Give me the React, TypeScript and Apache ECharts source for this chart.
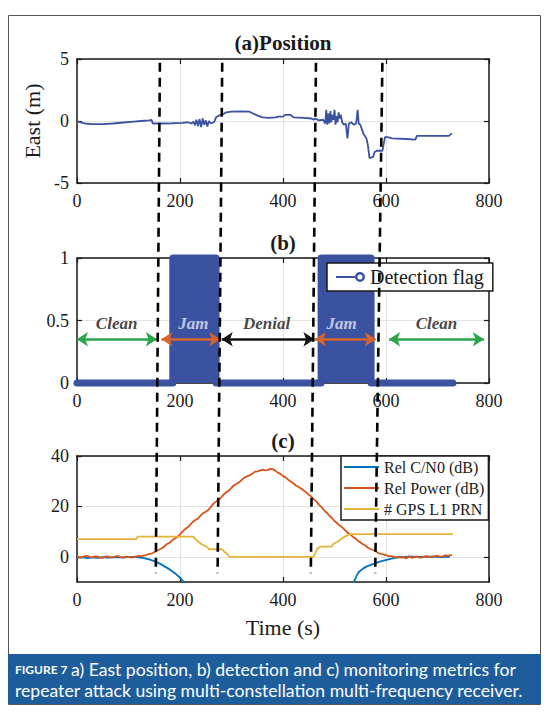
import React, { useEffect, useRef } from "react";
import * as echarts from "echarts";

// ---------- data ----------
const xTickValues = [0, 200, 400, 600, 800];

// (a) East position [time s, metres]
const eastPosition: [number, number][] = [
  [0, 0], [5, -0.1], [15, -0.2], [30, -0.25], [50, -0.25], [70, -0.2], [90, -0.12], [110, -0.05],
  [125, 0], [140, 0.05], [145, 0.08], [147, -0.2], [165, -0.2], [185, -0.18], [205, -0.15], [215, -0.1],
  [222, -0.2], [226, -0.05], [229, -0.35], [232, 0.1], [235, -0.4], [238, 0.15], [241, -0.5], [244, 0.2],
  [247, -0.3], [250, 0.05], [253, -0.45], [256, 0], [260, -0.2], [266, -0.1], [270, 0.3], [276, 0.45],
  [282, 0.5], [290, 0.7], [300, 0.75], [320, 0.78], [335, 0.75], [342, 0.6], [350, 0.45], [360, 0.3],
  [372, 0.25], [385, 0.3], [392, 0.35], [400, 0.35], [404, 0.5], [415, 0.5], [420, 0.3], [440, 0.25],
  [455, 0.2], [460, 0.1], [462, 0.2], [470, 0.05], [478, 0.1], [482, -0.2], [484, 0.9], [486, -0.3],
  [488, 0.6], [490, -0.2], [492, 0.8], [494, -0.1], [496, 0.5], [498, 0.1], [500, 0.9], [502, -0.3],
  [504, 0.4], [506, -0.1], [508, 0.7], [510, 0.2], [512, 0.5], [515, -0.1], [518, -0.3], [522, -0.2],
  [525, -1.4], [528, -0.2], [532, -0.1], [538, -0.3], [542, -0.2], [545, 0.9], [547, -0.2], [550, -0.3],
  [556, -1.0], [562, -1.4], [565, -2.0], [568, -3.0], [575, -2.9], [578, -2.5], [582, -2.4], [593, -2.4],
  [596, -1.75], [598, -1.3], [603, -1.3], [612, -1.4], [640, -1.45], [657, -1.5], [660, -1.2], [700, -1.2],
  [722, -1.2], [728, -1.0],
];

// (b) detection flag runs
const flagRunStart = [0, 186, 270, 474, 571];
const flagRunEnd = [186, 270, 474, 571, 730];
const flagRunValue = [0, 1, 0, 1, 0];

const regionNames = ["Clean", "Jam", "Denial", "Jam", "Clean"];
const regionLabelTime = [77, 226, 368, 514, 698];
const regionLabelLevel = 0.48;
const arrowStart = [0, 164, 281, 462, 606];
const arrowEnd = [155, 278, 461, 580, 790];
const arrowLevel = 0.35;

// (c) monitoring metrics [time s, value]
const relCn0: ([number, number] | [number, string])[] = [
  [0, -0.3], [10, -0.1], [20, -0.5], [30, -0.2], [40, -0.4], [50, -0.1], [60, -0.3], [70, -0.2],
  [80, -0.1], [90, -0.2], [100, -0.1], [110, 0], [120, -0.2], [130, -0.5], [140, -1.0], [150, -1.7],
  [160, -2.6], [170, -3.8], [180, -5.0], [190, -6.5], [200, -8.3], [205, -9.4], [208, -10.2], [212, -12],
  [300, "-"],
  [534, -12], [538, -9.8], [542, -8.0], [546, -6.4], [550, -5.5], [556, -4.6], [562, -3.9], [570, -3.2],
  [578, -2.7], [586, -2.0], [595, -1.5], [605, -1.0], [615, -0.5], [625, -0.2], [635, 0], [650, 0.1],
  [670, 0], [690, 0.1], [710, -0.1], [724, 0],
];
const relPower: [number, number][] = [
  [0, 0.2], [5, -0.2], [10, -0.3], [15, 0.3], [20, 0.4], [25, -0.1], [30, -0.2], [35, 0.2], [40, 0.1],
  [45, -0.3], [50, -0.4], [55, 0.1], [60, 0.2], [65, -0.2], [70, -0.1], [75, 0.2], [80, 0.3], [85, -0.2],
  [90, -0.3], [95, 0.1], [100, 0], [105, -0.3], [110, -0.2], [115, 0.2], [120, 0.4], [125, 0.2], [130, 0.6],
  [135, 0.7], [140, 1.2], [145, 1.3], [150, 1.8], [155, 2.5], [160, 2.9], [165, 3.4], [170, 4.2], [175, 5.1],
  [180, 5.6], [185, 6.6], [190, 7.3], [195, 7.9], [200, 8.9], [205, 10.1], [210, 11.0], [215, 11.7],
  [220, 12.8], [225, 13.9], [230, 14.6], [235, 15.2], [240, 16.3], [245, 17.3], [250, 17.9], [255, 18.6],
  [260, 19.8], [265, 21.1], [270, 21.9], [275, 22.6], [280, 23.6], [285, 24.8], [290, 25.6], [295, 26.3],
  [300, 27.4], [305, 28.4], [310, 29.0], [315, 29.6], [320, 30.5], [325, 31.4], [330, 31.9], [335, 32.3],
  [340, 33.0], [345, 33.7], [350, 33.9], [355, 34.2], [360, 34.6], [365, 34.3], [370, 34.4], [375, 34.9],
  [380, 34.8], [385, 34.2], [390, 33.4], [395, 32.9], [400, 32.0], [405, 31.5], [410, 30.6], [415, 29.9],
  [420, 29.2], [425, 28.3], [430, 27.8], [435, 27.1], [440, 26.3], [445, 25.6], [450, 24.6], [455, 23.9],
  [460, 22.8], [465, 21.9], [470, 20.6], [475, 19.7], [480, 18.4], [485, 17.5], [490, 16.3], [495, 15.4],
  [500, 14.2], [505, 13.4], [510, 12.4], [515, 11.7], [520, 10.7], [525, 9.6], [530, 9.0], [535, 8.1],
  [540, 7.4], [545, 6.4], [550, 5.8], [555, 5.0], [560, 4.5], [565, 3.6], [570, 3.1], [575, 2.7],
  [580, 2.2], [585, 1.5], [590, 1.2], [595, 1.0], [600, 0.7], [605, 0.3], [610, 0.3], [615, 0.0],
  [620, -0.1], [625, 0.1], [630, -0.3], [635, -0.2], [640, -0.6], [645, 0.2], [650, -0.4], [655, -0.1],
  [660, 0.1], [665, -0.3], [670, -0.2], [675, 0.2], [680, 0.3], [685, -0.1], [690, 0], [695, 0.3],
  [700, 0.4], [705, 0.0], [710, 0.2], [715, 0.6], [720, 0.5], [728, 0.7],
];
const gpsL1Prn: [number, number][] = [
  [0, 7], [115, 7], [118, 8], [226, 8], [230, 7], [236, 6], [242, 5], [252, 4], [256, 3], [282, 3],
  [286, 2], [292, 1], [296, 0], [459, 0], [462, 1], [466, 3], [472, 4], [494, 4], [497, 5], [506, 6],
  [512, 7], [520, 8], [530, 9], [730, 9],
];

// dashed phase boundaries (time at top of panel a, time at bottom of panel c)
const boundaryTimeTop = [161, 282, 464, 593];
const boundaryTimeBottom = [153, 273, 454, 579];
const boundaryTopEast = 4.7;
const boundaryBottomValue = -6.5;

const cTickValues = [0, 20, 40];

// ---------- styles ----------
const SERIF = "Liberation Serif";
const INK = "#1a1a1a";
const BLUE = "#3A52A0";
const GRID = "#e3e3e3";
const arrowColors = ["#27A74A", "#D8642C", "#111111", "#D8642C", "#27A74A"];
const regionTextColors = ["#111111", "#E6E6F6", "#111111", "#E6E6F6", "#111111"];

const flagIcon =
  "path://M0,9L19,9L19,11L0,11Z M19,10A5,5 0 1,0 29,10A5,5 0 1,0 19,10Z M21.5,10A2.5,2.5 0 1,1 26.5,10A2.5,2.5 0 1,1 21.5,10Z";
const lineIcon = "path://M0,0L35,0L35,2L0,2Z";

export default function App() {
  const ref = useRef<HTMLDivElement>(null);

  useEffect(() => {
    document.body.style.margin = "0";
    const chart = echarts.init(ref.current!, null, { renderer: "svg", width: 556, height: 724 });

    const flagData: [number, number][] = [];
    flagRunStart.forEach((s, i) => {
      flagData.push([s, flagRunValue[i]]);
      flagData.push([flagRunEnd[i], flagRunValue[i]]);
    });

    const gridRects = [
      { left: 77, top: 59, width: 412, height: 124 },
      { left: 77, top: 258, width: 412, height: 125 },
      { left: 77, top: 456, width: 412, height: 126 },
    ];

    const axisLine = { show: true, onZero: false, lineStyle: { color: INK, width: 1.5 } };
    const axisTick = { show: true, inside: true, length: 5, lineStyle: { color: INK, width: 1.2 } };
    const labelStyle = { color: INK, fontSize: 18, fontFamily: SERIF, margin: 9 };

    const bottomX = (gi: number, extra: any = {}) => ({
      type: "value",
      gridIndex: gi,
      min: xTickValues[0],
      max: xTickValues[xTickValues.length - 1],
      interval: 200,
      axisLine,
      axisTick,
      axisLabel: labelStyle,
      splitLine: { show: true, lineStyle: { color: GRID, width: 1 } },
      ...extra,
    });
    const topX = (gi: number) => ({
      type: "value",
      gridIndex: gi,
      position: "top",
      min: xTickValues[0],
      max: xTickValues[xTickValues.length - 1],
      interval: 200,
      axisLine,
      axisTick,
      axisLabel: { show: false },
      splitLine: { show: false },
    });

    const yA = {
      type: "value", gridIndex: 0, min: -5, max: 5, interval: 5,
      axisLine, axisTick, axisLabel: { ...labelStyle, margin: 8 },
      splitLine: { show: true, lineStyle: { color: GRID, width: 1 } },
      name: "East (m)", nameLocation: "middle", nameGap: 27,
      nameTextStyle: { fontFamily: SERIF, fontSize: 22, color: INK },
    };
    const yB = {
      type: "value", gridIndex: 1, min: 0, max: 1, interval: 0.5,
      axisLine, axisTick, axisLabel: { ...labelStyle, margin: 8 },
      splitLine: { show: true, lineStyle: { color: GRID, width: 1 } },
    };
    const yC = {
      type: "value", gridIndex: 2, min: -10, max: 40, interval: 10,
      axisLine,
      axisTick: { ...axisTick, customValues: cTickValues },
      axisLabel: { ...labelStyle, margin: 8, customValues: cTickValues },
      splitLine: { show: true, lineStyle: { color: GRID, width: 1 } },
    };
    const rightY = (gi: number, min: number, max: number, interval: number, custom?: number[]) => ({
      type: "value", gridIndex: gi, position: "right", min, max, interval,
      axisLine,
      axisTick: custom ? { ...axisTick, customValues: custom } : axisTick,
      axisLabel: { show: false },
      splitLine: { show: false },
    });

    const titleStyle = { fontFamily: SERIF, fontWeight: "bold", fontSize: 21, color: INK };

    const option: any = {
      animation: false,
      textStyle: { fontFamily: SERIF },
      title: [
        { text: "(a)Position", left: 283, top: 32, textAlign: "center", padding: 0, textStyle: titleStyle },
        { text: "(b)", left: 283, top: 232, textAlign: "center", padding: 0, textStyle: titleStyle },
        { text: "(c)", left: 283, top: 430, textAlign: "center", padding: 0, textStyle: titleStyle },
      ],
      legend: [
        {
          data: [{ name: "Detection flag", icon: flagIcon }],
          left: 327, top: 263, orient: "vertical",
          padding: [4, 9, 4, 9], itemWidth: 29, itemHeight: 10, itemGap: 0,
          borderColor: INK, borderWidth: 1.5, backgroundColor: "#fff",
          textStyle: { fontFamily: SERIF, fontSize: 20, color: INK },
          selectedMode: false, z: 10,
        },
        {
          data: [
            { name: "Rel C/N0 (dB)", icon: lineIcon },
            { name: "Rel Power (dB)", icon: lineIcon },
            { name: "# GPS L1 PRN", icon: lineIcon },
          ],
          left: 341, top: 456, orient: "vertical",
          padding: [3, 4, 3, 3], itemWidth: 35, itemHeight: 2, itemGap: 5,
          borderColor: INK, borderWidth: 1.5, backgroundColor: "#fff",
          textStyle: { fontFamily: SERIF, fontSize: 16, color: INK },
          selectedMode: false, z: 10,
        },
      ],
      grid: gridRects,
      xAxis: [
        bottomX(0),
        bottomX(1),
        bottomX(2, {
          name: "Time (s)", nameLocation: "middle", nameGap: 34,
          nameTextStyle: { fontFamily: SERIF, fontSize: 22, color: INK },
        }),
        topX(0),
        topX(1),
        topX(2),
      ],
      yAxis: [yA, yB, yC, rightY(0, -5, 5, 5), rightY(1, 0, 1, 0.5), rightY(2, -10, 40, 10, cTickValues)],
      series: [
        {
          name: "East position", type: "line", xAxisIndex: 0, yAxisIndex: 0,
          data: eastPosition, symbol: "none", color: BLUE,
          lineStyle: { color: BLUE, width: 1.8 },
        },
        {
          name: "Detection flag", type: "line", xAxisIndex: 1, yAxisIndex: 1,
          data: flagData, symbol: "none", color: BLUE, clip: false,
          lineStyle: { color: BLUE, width: 7, cap: "round", join: "round" },
          areaStyle: { color: BLUE, opacity: 1 },
          markLine: {
            silent: true, symbol: ["arrow", "arrow"], symbolSize: 11,
            label: { show: false },
            data: arrowStart.map((s, i) => [
              { coord: [s, arrowLevel], lineStyle: { color: arrowColors[i], width: 2.5, type: "solid" }, itemStyle: { color: arrowColors[i] } },
              { coord: [arrowEnd[i], arrowLevel] },
            ]),
          },
        },
        {
          name: "Regions", type: "scatter", xAxisIndex: 1, yAxisIndex: 1,
          symbolSize: 1, itemStyle: { color: "rgba(0,0,0,0)" }, silent: true, z: 6,
          data: regionNames.map((n, i) => ({
            name: n,
            value: [regionLabelTime[i], regionLabelLevel],
            label: { color: regionTextColors[i] },
          })),
          label: {
            show: true, position: "inside", formatter: "{b}",
            fontFamily: SERIF, fontStyle: "italic", fontWeight: "bold", fontSize: 17,
          },
        },
        {
          name: "Rel C/N0 (dB)", type: "line", xAxisIndex: 2, yAxisIndex: 2,
          data: relCn0, symbol: "none", color: "#0072BD",
          lineStyle: { color: "#0072BD", width: 1.8 },
        },
        {
          name: "Rel Power (dB)", type: "line", xAxisIndex: 2, yAxisIndex: 2,
          data: relPower, symbol: "none", color: "#D95319",
          lineStyle: { color: "#D95319", width: 1.8 },
        },
        {
          name: "# GPS L1 PRN", type: "line", xAxisIndex: 2, yAxisIndex: 2,
          data: gpsL1Prn, symbol: "none", color: "#E3B437",
          lineStyle: { color: "#E3B437", width: 1.8 },
        },
      ],
    };

    chart.setOption(option);

    const dashed = boundaryTimeTop.map((t, i) => {
      const p1 = chart.convertToPixel({ xAxisIndex: 0, yAxisIndex: 0 } as any, [t, boundaryTopEast]) as number[];
      const p2 = chart.convertToPixel({ xAxisIndex: 2, yAxisIndex: 2 } as any, [boundaryTimeBottom[i], boundaryBottomValue]) as number[];
      return {
        type: "line", z: 100, silent: true,
        shape: { x1: p1[0], y1: p1[1], x2: p2[0], y2: p2[1] },
        style: { stroke: "#000", lineWidth: 2.6, lineDash: [9, 6] },
      };
    });

    chart.setOption({
      graphic: [
        {
          type: "rect", z: 0, silent: true,
          shape: { x: 8.5, y: 15.5, width: 532, height: 689 },
          style: { fill: "none", stroke: "#555", lineWidth: 1 },
        },
        {
          type: "rect", z: 1, silent: true,
          shape: { x: 8, y: 654, width: 533, height: 50 },
          style: { fill: "#1E5D9C" },
        },
        {
          type: "text", z: 2, silent: true, x: 15, y: 669,
          style: { text: "FIGURE 7", fill: "#fff", fontFamily: "Lato", fontWeight: "bold", fontSize: 12, verticalAlign: "middle" },
        },
        {
          type: "text", z: 2, silent: true, x: 71, y: 669,
          style: { text: "a) East position, b) detection and c) monitoring metrics for", fill: "#fff", fontFamily: "Lato", fontSize: 17.6, verticalAlign: "middle" },
        },
        {
          type: "text", z: 2, silent: true, x: 15, y: 690,
          style: { text: "repeater attack using multi-constellation multi-frequency receiver.", fill: "#fff", fontFamily: "Lato", fontSize: 17.6, verticalAlign: "middle" },
        },
        ...dashed,
      ],
    });

    return () => chart.dispose();
  }, []);

  return (
    <div
      ref={ref}
      style={{ position: "absolute", left: 0, top: 0, width: 556, height: 724, background: "#fff" }}
    />
  );
}
